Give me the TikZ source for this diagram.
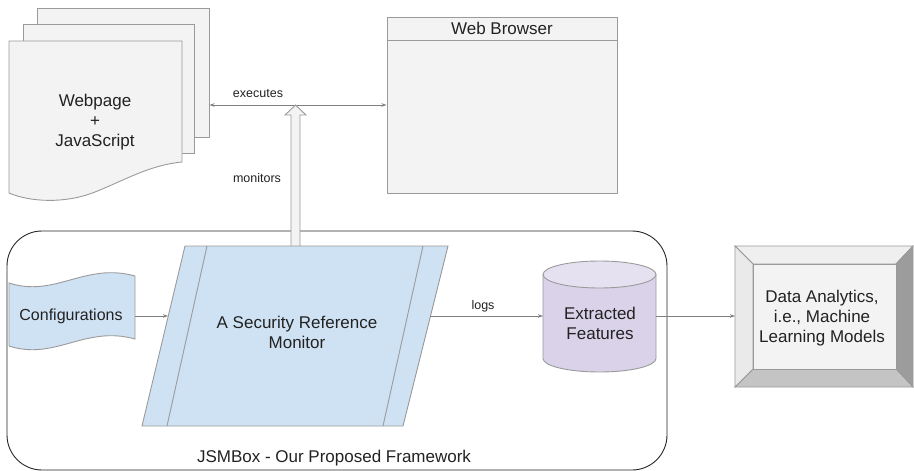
\documentclass[tikz,border=0pt]{standalone}
\usepackage{fontspec}
\setmainfont{Liberation Sans}
\usetikzlibrary{arrows.meta,calc}
\definecolor{pagefill}{HTML}{F3F3F3}
\definecolor{edgegray}{HTML}{9A9A9A}
\definecolor{conngray}{HTML}{808080}
\definecolor{srmblue}{HTML}{CFE2F3}
\definecolor{featpurple}{HTML}{D9D2E9}
\definecolor{feattop}{HTML}{E6E1F0}
\definecolor{txt}{HTML}{222222}
\definecolor{bevtop}{HTML}{EFEFEF}
\definecolor{bevleft}{HTML}{EAEAEA}
\definecolor{bevright}{HTML}{9C9C9C}
\definecolor{bevbottom}{HTML}{C4C4C4}
\begin{document}
\begin{tikzpicture}[x=1pt,y=-1pt,
  shapeline/.style={draw=edgegray, line width=0.9pt},
  bigtext/.style={font=\fontsize{17}{20}\selectfont, text=txt, align=center, inner sep=0pt},
  smalltext/.style={font=\fontsize{12.5}{15}\selectfont, text=txt, inner sep=0pt},
  connector/.style={draw=conngray, line width=0.8pt, -{Stealth[length=5pt,width=3.5pt]}},
]
\useasboundingbox (0,0) rectangle (914,471);

% stacked pages
\path[shapeline, fill=pagefill] (37,8) -- (209,8) -- (209,137) -- (37,137) -- cycle;
\path[shapeline, fill=pagefill] (23,24) -- (194,24) -- (194,153) -- (23,153) -- cycle;
\path[shapeline, fill=pagefill] (9,41) -- (182,41) -- (182,162)
   .. controls (150,165) and (125,180) .. (95,192)
   .. controls (65,204) and (30,202) .. (9,193) -- cycle;
\node[bigtext] (page) at (95,122) {Webpage\\+\\JavaScript};

% web browser
\path[shapeline, fill=pagefill] (387,17) rectangle (617,193);
\draw[shapeline] (387,40) -- (617,40);
\node[bigtext] (browser) at (502,28.5) {Web Browser};

% executes
\coordinate (pageR) at (209.5,105);
\coordinate (browserL) at (386.5,105);
\draw[connector, {Stealth[length=5pt,width=3.5pt]}-{Stealth[length=5pt,width=3.5pt]}] (pageR) -- (browserL);
\node[smalltext] (execlabel) at (258,94) {executes};

% framework
\draw[draw=black!85, line width=0.9pt, rounded corners=35pt] (7,231) rectangle (667,470);
\node[bigtext] (fw) at (334,458) {JSMBox - Our Proposed Framework};

% monitors block arrow
\path[shapeline, fill=pagefill] (291,246) -- (291,115) -- (285,115) -- (295.5,105) -- (306,115) -- (300,115) -- (300,246);
\node[smalltext] (monlabel) at (257,178) {monitors};

% security reference monitor
\path[shapeline, fill=srmblue] (185,246) -- (448,246) -- (403,426) -- (142,426) -- cycle;
\draw[shapeline] (207,246) -- (167,426);
\draw[shapeline] (423,246) -- (383,426);
\node[bigtext] (srm) at (297,332) {A Security Reference\\Monitor};

% configurations
\path[shapeline, fill=srmblue] (9,283) .. controls (55,298) and (85,262) .. (135,276)
   -- (135,339) .. controls (85,325) and (55,361) .. (9,346) -- cycle;
\node[bigtext, font=\fontsize{16}{19}\selectfont] (conf) at (71,316.5) {Configurations};

\coordinate (confR) at (135,316);
\coordinate (srmL) at (168,316);
\draw[connector] (confR) -- (srmL);

% extracted features cylinder
\path[shapeline, fill=featpurple] (543,274.5) -- (543,358.5)
   arc[start angle=180, end angle=360, x radius=56.5pt, y radius=13.5pt]
   -- (656,274.5) -- cycle;
\path[shapeline, fill=feattop] (599.5,274.5) ellipse [x radius=56.5pt, y radius=13.5pt];
\node[bigtext] (feat) at (600,323.5) {Extracted\\Features};

\coordinate (srmR) at (430,316);
\coordinate (featL) at (543,316);
\draw[connector] (srmR) -- (featL);
\node[smalltext] (logslabel) at (483,306) {logs};

% data analytics bevel box
\path[shapeline, fill=bevtop] (735,246) -- (913,246) -- (896,264) -- (753,264) -- cycle;
\path[shapeline, fill=bevright] (913,246) -- (913,387) -- (896,369) -- (896,264) -- cycle;
\path[shapeline, fill=bevbottom] (913,387) -- (735,387) -- (753,369) -- (896,369) -- cycle;
\path[shapeline, fill=bevleft] (735,387) -- (735,246) -- (753,264) -- (753,369) -- cycle;
\path[shapeline, fill=pagefill] (753,264) rectangle (896,369);
\node[bigtext] (data) at (822,318) {Data Analytics,\\i.e., Machine\\Learning Models};

\coordinate (featR) at (656,316);
\coordinate (dataL) at (735,316);
\draw[connector] (featR) -- (dataL);
\end{tikzpicture}
\end{document}
